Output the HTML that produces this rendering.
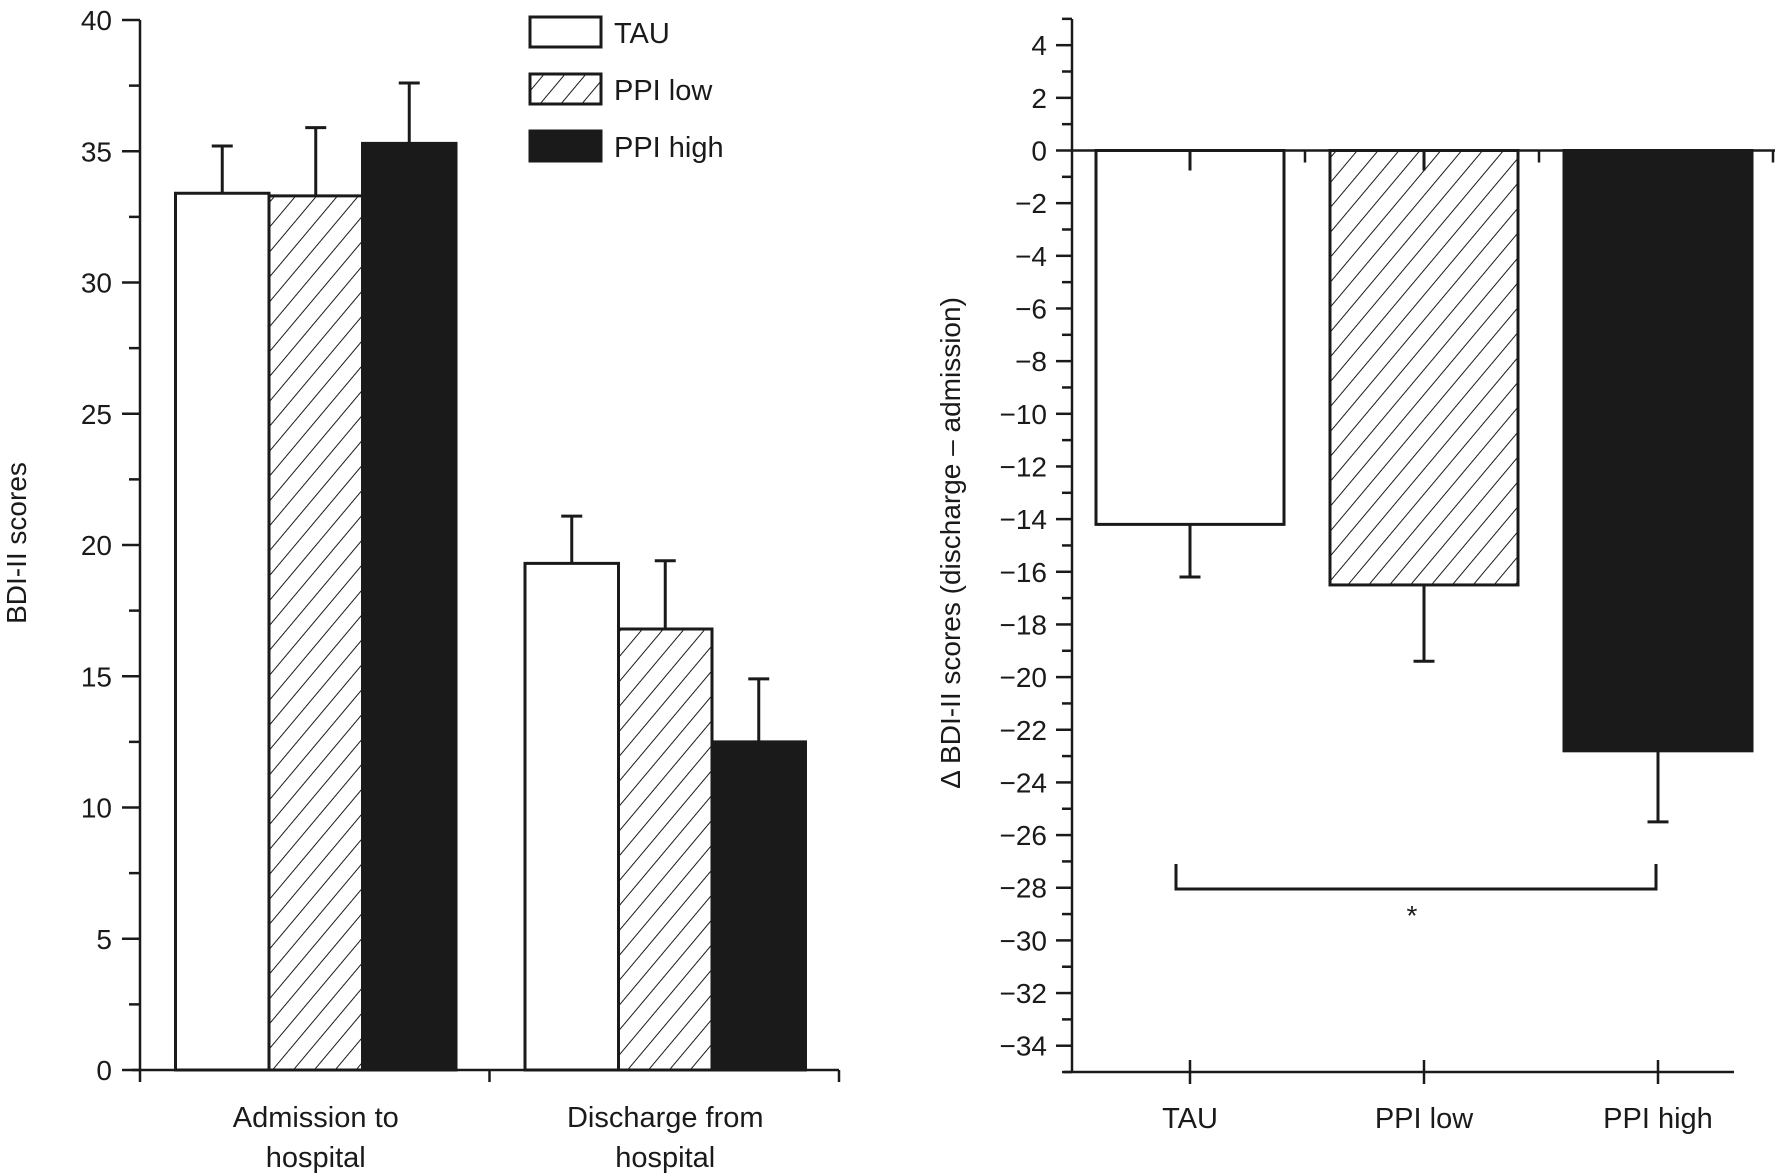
<!DOCTYPE html>
<html><head><meta charset="utf-8"><style>
html,body{margin:0;padding:0;background:#fff;}
svg{display:block;font-family:"Liberation Sans",sans-serif;}
text{fill:#1a1a1a;}
</style></head><body>
<svg id="c" width="1775" height="1175" viewBox="0 0 1775 1175" xmlns="http://www.w3.org/2000/svg">
<defs>
<pattern id="hatch" patternUnits="userSpaceOnUse" width="16" height="16" patternTransform="rotate(40)">
<rect width="16" height="16" fill="#fff"/><line x1="0" y1="0" x2="0" y2="16" stroke="#1a1a1a" stroke-width="2"/>
</pattern>
</defs>
</svg>
<script>
// Left chart data
const groupLabels = [["Admission to","hospital"],["Discharge from","hospital"]];
const seriesNames = ["TAU","PPI low","PPI high"];
const admissionMeans = [33.4, 33.3, 35.3];
const admissionErr = [1.8, 2.6, 2.3];
const dischargeMeans = [19.3, 16.8, 12.5];
const dischargeErr = [1.8, 2.6, 2.4];
const leftTicks = [0,5,10,15,20,25,30,35,40];
// Right chart data
const changeCats = ["TAU","PPI low","PPI high"];
const changeMeans = [-14.2, -16.5, -22.8];
const changeErr = [2.0, 2.9, 2.7];
const rightTicks = [4,2,0,-2,-4,-6,-8,-10,-12,-14,-16,-18,-20,-22,-24,-26,-28,-30,-32,-34];

const svg = document.getElementById('c');
const NS = 'http://www.w3.org/2000/svg';
function mk(tag, attrs, parent){const e=document.createElementNS(NS,tag);for(const k in attrs)e.setAttribute(k,attrs[k]);(parent||svg).appendChild(e);return e;}
const fills = ['#fff','url(#hatch)','#1a1a1a'];
const S = '#1a1a1a';

// ---------- Left chart ----------
const lx0=140, lx1=839, lyTop=20, lyBot=1070;
const ly = v => lyBot - (v/40)*(lyBot-lyTop);
let g = mk('g',{});


mk('line',{x1:lx0,y1:lyTop,x2:lx0,y2:lyBot,stroke:S,'stroke-width':2.5},g);
for(let v=0; v<=40; v+=2.5){
  const major = v%5===0;
  mk('line',{x1:lx0-(major?18:11),y1:ly(v),x2:lx0,y2:ly(v),stroke:S,'stroke-width':2.5},g);
}
leftTicks.forEach(v=>{
  const t=mk('text',{x:112,y:ly(v)+10,'text-anchor':'end','font-size':28},g);
  t.textContent=v;
  
  
});
let yt = mk('text',{x:0,y:0,transform:'translate(26,543) rotate(-90)','text-anchor':'middle','font-size':28});
yt.textContent='BDI-II scores';



g = mk('g',{});


mk('line',{x1:lx0-8,y1:lyBot,x2:lx1,y2:lyBot,stroke:S,'stroke-width':2.5},g);
[lx0,(lx0+lx1)/2,lx1].forEach(x=>mk('line',{x1:x,y1:lyBot,x2:x,y2:lyBot+12,stroke:S,'stroke-width':2.5},g));
const groupW = (lx1-lx0)/2, barW = 93.5;
[admissionMeans, dischargeMeans].forEach((means,gi)=>{
  const errs = gi===0?admissionErr:dischargeErr;
  const startX = lx0 + gi*groupW + 35.5;
  means.forEach((m,si)=>{
    const x = startX + si*barW;
    const r = mk('rect',{x:x,y:ly(m),width:barW,height:lyBot-ly(m),fill:fills[si],stroke:S,'stroke-width':3});
    
    
    const cx = x+barW/2, ye = ly(m+errs[si]);
    const eb = mk('g',{});
    
    
    mk('line',{x1:cx,y1:ly(m),x2:cx,y2:ye,stroke:S,'stroke-width':3},eb);
    mk('line',{x1:cx-10.5,y1:ye,x2:cx+10.5,y2:ye,stroke:S,'stroke-width':3},eb);
  });
  const cx = lx0 + gi*groupW + groupW/2 + 1;
  groupLabels[gi].forEach((s,li)=>{
    const t = mk('text',{x:cx,y:1127+li*40,'text-anchor':'middle','font-size':29});
    t.textContent=s;
    
    
  });
});

// legend
const lg = mk('g',{});


[17,74,131].forEach((y,i)=>{
  const e = mk('g',{},lg);
  
  
  mk('rect',{x:530,y:y,width:71,height:30,fill:fills[i],stroke:S,'stroke-width':3},e);
  const t = mk('text',{x:614,y:y+26,'font-size':29},e);
  t.textContent = seriesNames[i];
});

// ---------- Right chart ----------
const rx0=1072, rx1=1734, ry0=150.5, unit=26.33, ryBot=1072;
const ry = v => ry0 - v*unit;
g = mk('g',{});


mk('line',{x1:rx0,y1:19,x2:rx0,y2:ryBot,stroke:S,'stroke-width':2.5},g);
for(let v=5; v>=-35; v--){
  const major = v%2===0;
  mk('line',{x1:rx0-(major?16:10),y1:ry(v),x2:rx0,y2:ry(v),stroke:S,'stroke-width':2.5},g);
}
rightTicks.forEach(v=>{
  const t=mk('text',{x:1047,y:ry(v)+10,'text-anchor':'end','font-size':28},g);
  t.textContent = v<0 ? '\u2212'+(-v) : v;
  
  
});
yt = mk('text',{x:0,y:0,transform:'translate(960,543) rotate(-90)','text-anchor':'middle','font-size':28});
yt.textContent='\u0394 BDI-II scores (discharge \u2013 admission)';



g = mk('g',{});


mk('line',{x1:rx0-8,y1:ryBot,x2:rx1,y2:ryBot,stroke:S,'stroke-width':2.5},g);
const catW = 234, catX0 = 1190;
changeCats.forEach((c,i)=>{
  const cx = catX0 + i*catW;
  mk('line',{x1:cx,y1:ryBot-12,x2:cx,y2:ryBot+12,stroke:S,'stroke-width':2.5},g);
  const t = mk('text',{x:cx,y:1128,'text-anchor':'middle','font-size':29},g);
  t.textContent=c;
  
  
});
// zero line with top ticks
const zl = mk('g',{});


mk('line',{x1:rx0,y1:ry(0),x2:1775,y2:ry(0),stroke:S,'stroke-width':2.5},zl);
[1305,1539,1773].forEach(x=>mk('line',{x1:x,y1:ry(0),x2:x,y2:ry(0)+12,stroke:S,'stroke-width':2.5},zl));

const rBarW = 188;
changeMeans.forEach((m,i)=>{
  const cx = catX0 + i*catW;
  const r = mk('rect',{x:cx-rBarW/2,y:ry(0),width:rBarW,height:ry(m)-ry(0),fill:fills[i],stroke:S,'stroke-width':3});
  
  
  const eb = mk('g',{});
  
  
  mk('line',{x1:cx,y1:ry(m),x2:cx,y2:ry(m-changeErr[i]),stroke:S,'stroke-width':3},eb);
  mk('line',{x1:cx-10.5,y1:ry(m-changeErr[i]),x2:cx+10.5,y2:ry(m-changeErr[i]),stroke:S,'stroke-width':3},eb);
  mk('line',{x1:cx,y1:ry(0),x2:cx,y2:ry(0)+20,stroke:S,'stroke-width':3},eb);
});

// significance bracket
const br = mk('g',{});


mk('polyline',{points:'1176,864 1176,889 1656,889 1656,864',fill:'none',stroke:S,'stroke-width':3},br);
const st = mk('text',{x:1412,y:925,'text-anchor':'middle','font-size':28},br);
st.textContent='*';
</script>
</body></html>
